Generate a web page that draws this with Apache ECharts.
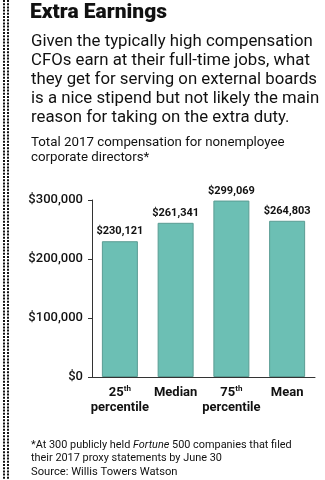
<!DOCTYPE html>
<html>
<head>
<meta charset="utf-8">
<script src="https://cdn.jsdelivr.net/npm/echarts@6/dist/echarts.min.js"></script>
<style>
  html, body { margin: 0; padding: 0; background: #fff; }
  #chart { width: 325px; height: 480px; }
</style>
</head>
<body>
<div id="chart"></div>
<script>
// Director pay figures
const categories = ['25th percentile', 'Median', '75th percentile', 'Mean'];
const compensation = [230121, 261341, 299069, 264803];
const yTicks = [0, 100000, 200000, 300000];

const titleText = 'Extra Earnings';
const introLines = [
  'Given the typically high compensation',
  'CFOs earn at their full-time jobs, what',
  'they get for serving on external boards',
  'is a nice stipend but not likely the main',
  'reason for taking on the extra duty.'
];
const subtitleLines = [
  'Total 2017 compensation for nonemployee',
  'corporate directors*'
];
const sourceText = 'Source: Willis Towers Watson';

const FONT = 'Roboto, "Noto Sans", sans-serif';
const fmtMoney = v => '$' + v.toLocaleString('en-US');

function axisLabel(name) {
  const m = name.match(/^(\d+)(th) (.*)$/);
  if (m) return '{b|' + m[1] + '}{sup|' + m[2] + '}\n{b|' + m[3] + '}';
  return '{b|' + name + '}';
}

// Left-edge dotted rule: two columns of small dots
const dots = [];
for (const x of [4, 8]) {
  dots.push({
    type: 'line',
    shape: { x1: x, y1: 0, x2: x, y2: 480 },
    style: { stroke: '#111', lineWidth: 2, lineDash: [2, 1.2] },
    silent: true
  });
}

const texts = [];
texts.push({
  type: 'text', left: 30, top: 2,
  style: { text: titleText, font: '900 21px ' + FONT, fill: '#111' }
});
introLines.forEach((t, i) => texts.push({
  type: 'text', left: 31, top: 33 + i * 19,
  style: { text: t, font: '400 16.8px ' + FONT, fill: '#111' }
}));
subtitleLines.forEach((t, i) => texts.push({
  type: 'text', left: 31, top: 136 + i * 15.5,
  style: { text: t, font: '400 13.3px ' + FONT, fill: '#111' }
}));
texts.push({
  type: 'text', left: 31, top: 439,
  style: {
    text: '*At 300 publicly held {i|Fortune} 500 companies that filed\ntheir 2017 proxy statements by June 30',
    font: '400 10.9px ' + FONT, fill: '#111', lineHeight: 13,
    rich: { i: { font: 'italic 400 10.9px ' + FONT, fill: '#111' } }
  }
});
texts.push({
  type: 'text', left: 31, top: 467,
  style: { text: sourceText, font: '400 11.2px ' + FONT, fill: '#111' }
});

const chart = echarts.init(document.getElementById('chart'), null, { renderer: 'canvas' });
chart.setOption({
  animation: false,
  backgroundColor: '#fff',
  grid: { left: 92, right: 10, top: 200, bottom: 103 },
  xAxis: {
    type: 'category',
    data: categories,
    axisLine: { lineStyle: { color: '#333', width: 1 } },
    axisTick: { inside: true, length: 4, lineStyle: { color: '#333' } },
    axisLabel: {
      margin: 8,
      interval: 0,
      formatter: axisLabel,
      rich: {
        b: { fontFamily: FONT, fontWeight: 700, fontSize: 13, color: '#111', lineHeight: 15 },
        sup: { fontFamily: FONT, fontWeight: 700, fontSize: 8, color: '#111', verticalAlign: 'top', lineHeight: 15, padding: [0, 0, 6, 0] }
      }
    }
  },
  yAxis: {
    type: 'value',
    min: yTicks[0],
    max: yTicks[yTicks.length - 1],
    interval: yTicks[1] - yTicks[0],
    axisLine: { show: true, lineStyle: { color: '#333', width: 1 } },
    axisTick: { show: true, length: 4, lineStyle: { color: '#333' } },
    splitLine: { show: false },
    axisLabel: {
      margin: 9,
      fontFamily: FONT, fontWeight: 500, fontSize: 13, color: '#111',
      formatter: fmtMoney
    }
  },
  series: [{
    type: 'bar',
    data: compensation,
    barWidth: 36,
    itemStyle: { color: '#6cbfb4', borderColor: '#5a9c93', borderWidth: 1 },
    label: {
      show: true, position: 'top', distance: 4,
      fontFamily: FONT, fontWeight: 700, fontSize: 11, color: '#111',
      formatter: p => fmtMoney(p.value)
    }
  }],
  graphic: dots.concat(texts)
});
</script>
</body>
</html>
